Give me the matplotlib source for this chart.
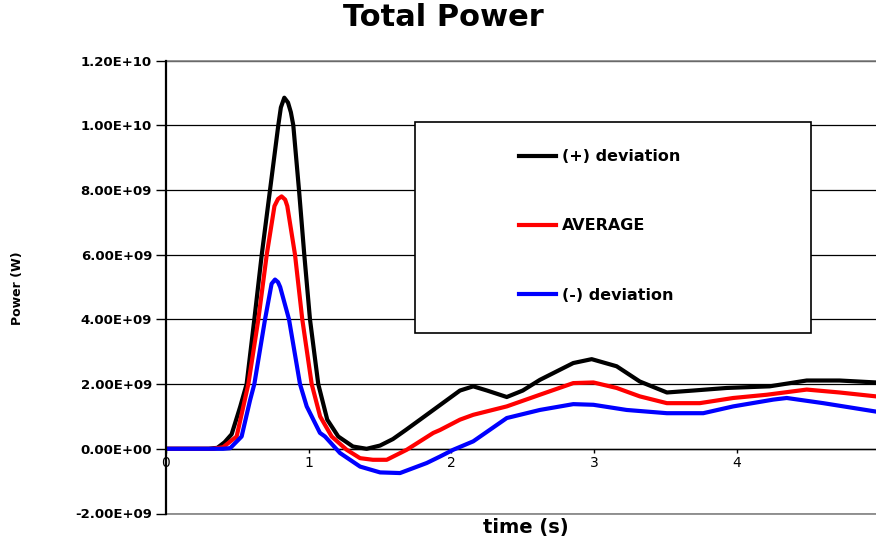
import matplotlib
matplotlib.use("Agg")
import matplotlib.pyplot as plt
from matplotlib.patches import Rectangle

# --- data (time in s, power in 1e9 W) ---
t_plus = [0, 0.30, 0.36, 0.41, 0.46, 0.52, 0.565, 0.619, 0.671, 0.729, 0.787, 0.805,
          0.829, 0.855, 0.875, 0.892, 0.932, 0.969, 1.009, 1.067, 1.13, 1.207, 1.31,
          1.406, 1.50, 1.59, 1.68, 1.78, 1.92, 2.06, 2.153, 2.25, 2.388, 2.50, 2.62,
          2.854, 2.983, 3.158, 3.32, 3.51, 3.695, 3.93, 4.23, 4.49, 4.72, 4.975]
p_plus = [0, 0, 0.03, 0.2, 0.45, 1.3, 2.0, 4.0, 6.0, 8.0, 10.0, 10.55,
          10.85, 10.7, 10.4, 10.0, 8.0, 6.0, 4.0, 2.0, 0.9, 0.38, 0.07,
          0.0, 0.1, 0.3, 0.58, 0.9, 1.35, 1.8, 1.93, 1.8, 1.6, 1.8, 2.13,
          2.65, 2.77, 2.55, 2.08, 1.74, 1.80, 1.88, 1.93, 2.11, 2.11, 2.05]

t_avg = [0, 0.33, 0.40, 0.495, 0.577, 0.647, 0.706, 0.76, 0.785, 0.81, 0.835, 0.85,
         0.904, 0.955, 1.021, 1.08, 1.161, 1.266, 1.36, 1.45, 1.547, 1.687, 1.873,
         1.92, 2.06, 2.153, 2.388, 2.62, 2.854, 2.995, 3.158, 3.32, 3.51, 3.74,
         3.975, 4.21, 4.49, 4.72, 4.975]
p_avg = [0, 0, 0.05, 0.38, 2.0, 4.0, 6.0, 7.5, 7.72, 7.8, 7.7, 7.5,
         6.0, 4.0, 2.0, 1.0, 0.38, -0.03, -0.29, -0.34, -0.34, -0.03, 0.49,
         0.58, 0.9, 1.05, 1.31, 1.67, 2.03, 2.05, 1.88, 1.62, 1.41, 1.41,
         1.57, 1.67, 1.83, 1.74, 1.62]

t_minus = [0, 0.40, 0.45, 0.53, 0.589, 0.619, 0.694, 0.74, 0.764, 0.785, 0.80, 0.862,
           0.939, 0.986, 1.079, 1.114, 1.219, 1.36, 1.5, 1.64, 1.827, 1.92, 2.013,
           2.153, 2.388, 2.62, 2.854, 2.995, 3.228, 3.51, 3.765, 3.975, 4.256, 4.35,
           4.606, 4.975]
p_minus = [0, 0, 0.02, 0.38, 1.5, 2.0, 4.0, 5.1, 5.23, 5.15, 5.0, 4.0,
           2.0, 1.31, 0.49, 0.38, -0.13, -0.55, -0.73, -0.75, -0.44, -0.24, -0.03,
           0.23, 0.95, 1.2, 1.38, 1.36, 1.2, 1.1, 1.1, 1.31, 1.52, 1.57,
           1.41, 1.15]

y_ticks = [-2e9, 0, 2e9, 4e9, 6e9, 8e9, 1e10, 1.2e10]
y_tick_labels = ["-2.00E+09", "0.00E+00", "2.00E+09", "4.00E+09", "6.00E+09",
                 "8.00E+09", "1.00E+10", "1.20E+10"]
x_ticks = [0, 1, 2, 3, 4]

scale = 1e9

fig = plt.figure(figsize=(8.76, 5.38), dpi=100)
ax = fig.add_axes([166 / 876, 1 - 513.5 / 538, 1 - 166 / 876, 453 / 538])

ax.plot(t_plus, [v * scale for v in p_plus], color="black", lw=3, label="(+) deviation", zorder=3)
ax.plot(t_avg, [v * scale for v in p_avg], color="red", lw=3, label="AVERAGE", zorder=3)
ax.plot(t_minus, [v * scale for v in p_minus], color="blue", lw=3, label="(-) deviation", zorder=3)

ax.set_xlim(0, 710 / 142.7)
ax.set_ylim(y_ticks[0], y_ticks[-1])
ax.set_yticks(y_ticks)
ax.set_yticklabels(y_tick_labels, fontsize=9.5, fontweight="bold")
ax.set_xticks(x_ticks)
ax.set_xticklabels([str(x) for x in x_ticks], fontsize=9, fontweight="bold")

ax.yaxis.grid(True, color="black", lw=0.9, zorder=1)
ax.set_axisbelow(True)
# plot-area border lines at top and bottom (grey, like the Excel frame)
ax.axhline(y_ticks[0], color="gray", lw=1.2, clip_on=False, zorder=2)
ax.axhline(y_ticks[-1], color="gray", lw=1.2, clip_on=False, zorder=2)

ax.spines["top"].set_visible(False)
ax.spines["right"].set_visible(False)
ax.spines["left"].set_linewidth(1.6)
ax.spines["left"].set_zorder(4)
ax.spines["bottom"].set_position(("data", 0))
ax.spines["bottom"].set_linewidth(1.0)
ax.tick_params(axis="y", direction="out", length=7, width=1, pad=3)
ax.tick_params(axis="x", direction="out", length=3, width=1, pad=2)

# legend box
box = Rectangle((249 / 710, 181 / 453), 396 / 710, 211 / 453, transform=ax.transAxes,
                facecolor="white", edgecolor="black", lw=1.2, zorder=5)
ax.add_patch(box)
leg = ax.legend(loc="center left", bbox_to_anchor=(345 / 710, 287.5 / 453),
                frameon=False, prop={"weight": "bold", "size": 11.5},
                handlelength=2.3, handletextpad=0.4, labelspacing=3.4, borderpad=0)
leg.set_zorder(6)

fig.text(443 / 876, 1 - 18 / 538, "Total Power", ha="center", va="center",
         fontsize=22, fontweight="bold")
fig.text(18 / 876, 1 - 288 / 538, "Power (W)", ha="center", va="center",
         rotation=90, fontsize=9, fontweight="bold")
fig.text(526 / 876, 1 - 528 / 538, "time (s)", ha="center", va="center",
         fontsize=14, fontweight="bold")

fig.savefig("out.png", dpi=100)
